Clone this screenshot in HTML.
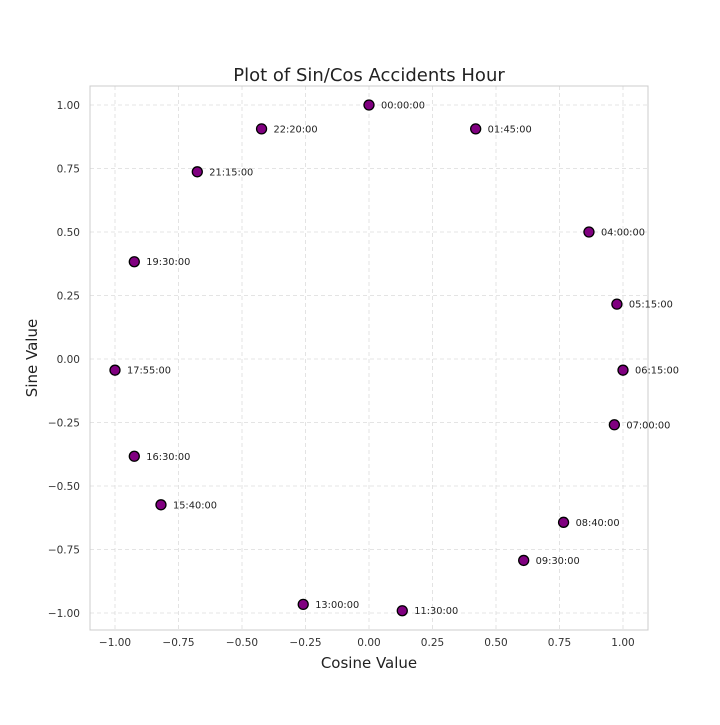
<!DOCTYPE html>
<html><head><meta charset="utf-8"><style>
body{margin:0;background:#fff;}
svg{font-family:"DejaVu Sans","Liberation Sans",sans-serif;}
</style></head><body>
<svg id="chart" width="720" height="720" viewBox="0 0 720 720"></svg>
<script>
const labels=["00:00:00","01:45:00","04:00:00","05:15:00","06:15:00","07:00:00","08:40:00","09:30:00","11:30:00","13:00:00","15:40:00","16:30:00","17:55:00","19:30:00","21:15:00","22:20:00"];
const xVals=[0,0.42,0.866,0.976,1.0,0.966,0.766,0.609,0.131,-0.259,-0.819,-0.924,-1.0,-0.924,-0.676,-0.423];
const yVals=[1,0.906,0.5,0.216,-0.044,-0.259,-0.643,-0.793,-0.991,-0.966,-0.574,-0.383,-0.044,0.383,0.737,0.906];
const xTicks=[-1,-0.75,-0.5,-0.25,0,0.25,0.5,0.75,1];
const yTicks=[-1,-0.75,-0.5,-0.25,0,0.25,0.5,0.75,1];
const L=90,R=648,T=86,B=630;
const sx=v=>369+v*254, sy=v=>359-v*254;
const svg=document.getElementById('chart');const NS='http://www.w3.org/2000/svg';
function mk(tag,attrs,parent){const e=document.createElementNS(NS,tag);for(const k in attrs)e.setAttribute(k,attrs[k]);(parent||svg).appendChild(e);return e;}
const grid=mk('g',{});


xTicks.forEach(t=>{mk('line',{x1:sx(t),x2:sx(t),y1:T,y2:B,stroke:'#dcdcdc','stroke-dasharray':'4,3','stroke-width':0.8},grid);
const tx=mk('text',{x:sx(t),y:B+16,'text-anchor':'middle','font-size':10.5,fill:'#333'});tx.textContent=t.toFixed(2).replace('-','\u2212');

});
yTicks.forEach(t=>{mk('line',{x1:L,x2:R,y1:sy(t),y2:sy(t),stroke:'#dcdcdc','stroke-dasharray':'4,3','stroke-width':0.8},grid);
const tx=mk('text',{x:L-10,y:sy(t)+4,'text-anchor':'end','font-size':10.5,fill:'#333'});tx.textContent=t.toFixed(2).replace('-','\u2212');

});
const frame=mk('rect',{x:L,y:T,width:R-L,height:B-T,fill:'none',stroke:'#ccc','stroke-width':1});


labels.forEach((lb,i)=>{const c=mk('circle',{cx:sx(xVals[i]),cy:sy(yVals[i]),r:5,fill:'#800080',stroke:'#000','stroke-width':1.3});


const t=mk('text',{x:sx(xVals[i])+12,y:sy(yVals[i])+3.5,'font-size':9.8,fill:'#222'});t.textContent=lb;

});
const title=mk('text',{x:369,y:81,'text-anchor':'middle','font-size':18,fill:'#222'});title.textContent='Plot of Sin/Cos Accidents Hour';


const xl=mk('text',{x:369,y:668,'text-anchor':'middle','font-size':15,fill:'#222'});xl.textContent='Cosine Value';


const yl=mk('text',{x:37,y:358,'text-anchor':'middle','font-size':15,fill:'#222',transform:'rotate(-90 37 358)'});yl.textContent='Sine Value';


</script>
</body></html>
